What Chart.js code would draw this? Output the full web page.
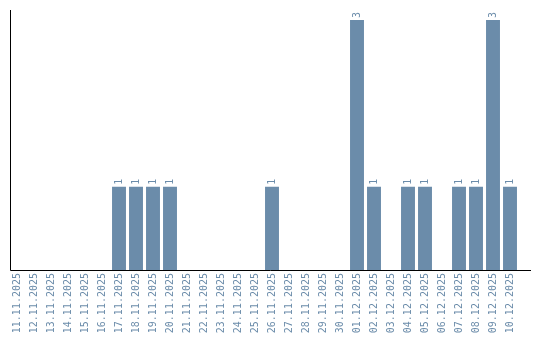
<!DOCTYPE html>
<html>
<head>
<meta charset="utf-8">
<script src="https://cdn.jsdelivr.net/npm/chart.js@4/dist/chart.umd.min.js"></script>
<style>
  body { margin: 0; background: #fff; }
</style>
</head>
<body>
<canvas id="chart" width="540" height="340"></canvas>
<script>
const days = [
  '11.11.2025', '12.11.2025', '13.11.2025', '14.11.2025', '15.11.2025', '16.11.2025',
  '17.11.2025', '18.11.2025', '19.11.2025', '20.11.2025', '21.11.2025', '22.11.2025',
  '23.11.2025', '24.11.2025', '25.11.2025', '26.11.2025', '27.11.2025', '28.11.2025',
  '29.11.2025', '30.11.2025', '01.12.2025', '02.12.2025', '03.12.2025', '04.12.2025',
  '05.12.2025', '06.12.2025', '07.12.2025', '08.12.2025', '09.12.2025', '10.12.2025'
];
const counts = [
  0, 0, 0, 0, 0, 0,
  1, 1, 1, 1, 0, 0,
  0, 0, 0, 1, 0, 0,
  0, 0, 3, 1, 0, 1,
  1, 0, 1, 1, 3, 1
];

const barColor = '#6b8caa';

Chart.defaults.font.family = 'DejaVu Sans Mono';
Chart.defaults.font.size = 10;

// value labels above bars, rotated like the tick labels
const valueLabels = {
  id: 'valueLabels',
  afterDatasetsDraw(chart) {
    const ctx = chart.ctx;
    const meta = chart.getDatasetMeta(0);
    ctx.save();
    ctx.fillStyle = barColor;
    ctx.font = '10px "DejaVu Sans Mono"';
    ctx.textAlign = 'left';
    ctx.textBaseline = 'middle';
    meta.data.forEach((bar, i) => {
      const v = counts[i];
      if (!v) return;
      ctx.save();
      ctx.translate(bar.x, bar.y - 2);
      ctx.rotate(-Math.PI / 2);
      ctx.fillText(String(v), 0, 0);
      ctx.restore();
    });
    ctx.restore();
  }
};

// plain black axis lines
const axisLines = {
  id: 'axisLines',
  afterDraw(chart) {
    const ctx = chart.ctx;
    const a = chart.chartArea;
    ctx.save();
    ctx.strokeStyle = '#000';
    ctx.lineWidth = 1;
    ctx.beginPath();
    ctx.moveTo(10.5, a.top);
    ctx.lineTo(10.5, a.bottom + 0.5);
    ctx.lineTo(531, a.bottom + 0.5);
    ctx.stroke();
    ctx.restore();
  }
};

new Chart(document.getElementById('chart'), {
  type: 'bar',
  data: {
    labels: days,
    datasets: [{
      label: 'Count',
      data: counts,
      backgroundColor: barColor,
      categoryPercentage: 1,
      barPercentage: 0.82
    }]
  },
  options: {
    responsive: false,
    animation: false,
    layout: {
      padding: { left: 8.5, right: 21.5, top: 10, bottom: 0 }
    },
    plugins: {
      legend: { display: false },
      tooltip: { enabled: false }
    },
    scales: {
      x: {
        grid: { display: false, drawTicks: false },
        border: { display: false },
        ticks: {
          color: barColor,
          autoSkip: false,
          minRotation: 90,
          maxRotation: 90,
          padding: 3
        },
        afterFit(scale) { scale.height = 70; }
      },
      y: {
        display: false,
        min: 0,
        max: 3.12
      }
    }
  },
  plugins: [valueLabels, axisLines]
});
</script>
</body>
</html>
